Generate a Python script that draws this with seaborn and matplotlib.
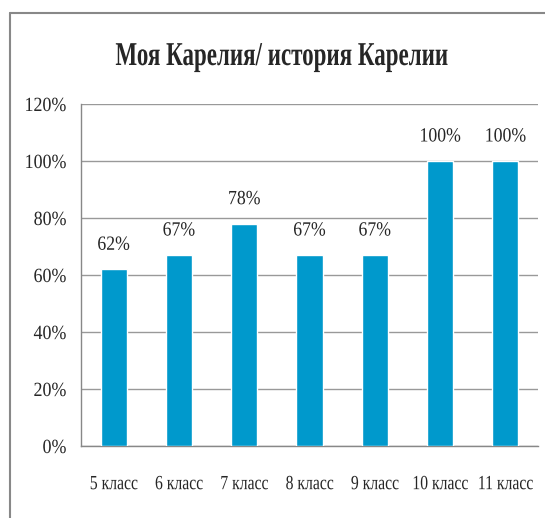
import matplotlib
matplotlib.use("Agg")
import matplotlib.pyplot as plt
from matplotlib.lines import Line2D
from matplotlib.patheffects import AbstractPathEffect
from matplotlib.transforms import Affine2D
import seaborn as sns
import pandas as pd
import numpy as np

categories = ["5 класс", "6 класс", "7 класс", "8 класс", "9 класс", "10 класс", "11 класс"]
values = [0.62, 0.67, 0.78, 0.67, 0.67, 1.00, 1.00]
labels = ["62%", "67%", "78%", "67%", "67%", "100%", "100%"]
yticks = [0, 0.2, 0.4, 0.6, 0.8, 1.0, 1.2]
yticklabels = ["0%", "20%", "40%", "60%", "80%", "100%", "120%"]
title = "Моя Карелия/ история Карелии"


class Squeeze(AbstractPathEffect):
    """Condense glyphs horizontally (the reference font is a narrow Times)."""
    def __init__(self, sx, anchor="center"):
        super().__init__()
        self.sx = sx
        self.anchor = anchor

    def draw_path(self, renderer, gc, tpath, affine, rgbFace=None):
        ext = tpath.get_extents()
        if self.anchor == "right":
            cx = ext.x1
        elif self.anchor == "left":
            cx = ext.x0
        else:
            cx = (ext.x0 + ext.x1) / 2
        t = Affine2D().translate(-cx, 0).scale(self.sx, 1).translate(cx, 0)
        renderer.draw_path(gc, tpath, t + affine, rgbFace)


sns.set_style("white")
plt.rcParams['font.family'] = ['Liberation Serif', 'DejaVu Serif']

W, H = 545, 518
fig = plt.figure(figsize=(W / 100, H / 100), dpi=100)
ax = fig.add_axes([81 / W, 1 - 446 / H, (538 - 81) / W, (446 - 104) / H])

df = pd.DataFrame({"cat": categories, "val": values})
sns.barplot(data=df, x="cat", y="val", color="#0099CC", width=0.4, saturation=1, ax=ax, zorder=3)

ax.set_ylim(0, 1.2)
ax.set_xlim(-0.5, len(categories) - 0.5)
ax.set_yticks(yticks)
ax.set_yticklabels(yticklabels, fontsize=14.5)
ax.set_xticks(range(len(categories)))
ax.set_xticklabels(categories, fontsize=14.5)
ax.set_xticks(np.arange(-0.5, len(categories), 1), minor=True)
ax.tick_params(axis="x", which="major", length=0, pad=21)
ax.tick_params(axis="x", which="minor", length=5, color="#888888", width=1, direction="out")
ax.tick_params(axis="y", length=4, color="#888888", width=1, direction="out", pad=6.5)
ax.set_xlabel("")
ax.set_ylabel("")
ax.yaxis.grid(True, color="#999999", linewidth=1, zorder=0)
ax.set_axisbelow(True)
for s in ["top", "right"]:
    ax.spines[s].set_visible(False)
for s in ["left", "bottom"]:
    ax.spines[s].set_color("#888888")
    ax.spines[s].set_linewidth(1)

for t in ax.get_yticklabels():
    t.set_path_effects([Squeeze(0.89, "right")])
for t in ax.get_xticklabels():
    t.set_path_effects([Squeeze(0.78, "center")])

for i, (v, lab) in enumerate(zip(values, labels)):
    ax.annotate(lab, (i, v), xytext=(0, 17.3), textcoords="offset points",
                ha="center", va="center", fontsize=14.5,
                path_effects=[Squeeze(0.88, "center")])

fig.text(282.5 / W, 1 - 65 / H, title, ha="center", va="baseline", fontsize=24,
         fontweight="bold", path_effects=[Squeeze(0.69, "center")])

fig.add_artist(Line2D([10 / W, 1], [1 - 13 / H, 1 - 13 / H], transform=fig.transFigure, color="#888888", linewidth=1.5))
fig.add_artist(Line2D([10 / W, 10 / W], [0, 1 - 13 / H], transform=fig.transFigure, color="#888888", linewidth=1.5))

fig.savefig("out.png", dpi=100)
